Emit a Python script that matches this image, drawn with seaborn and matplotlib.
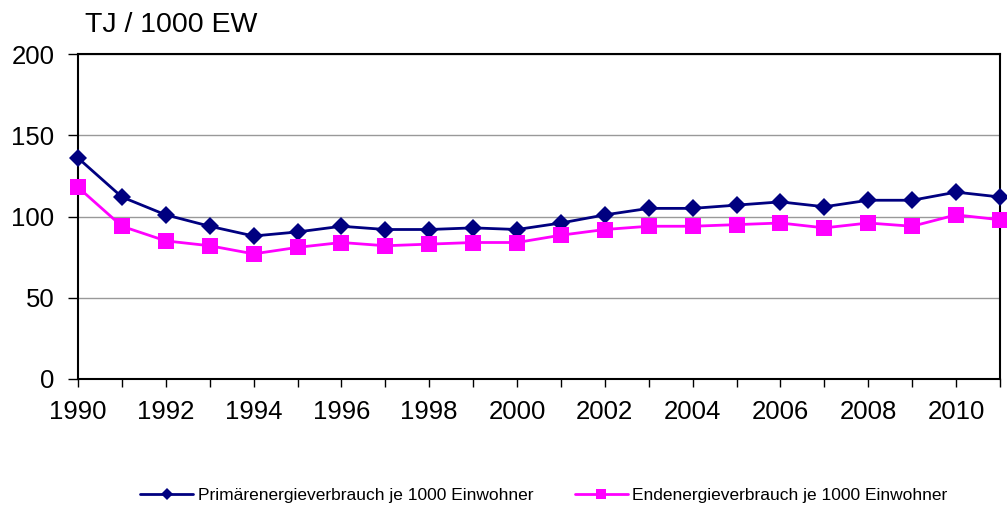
import matplotlib
matplotlib.use("Agg")
import matplotlib.pyplot as plt
import seaborn as sns
import pandas as pd
from matplotlib.ticker import MultipleLocator
from matplotlib.lines import Line2D

years = list(range(1990, 2012))
primaer = [136, 112, 101, 94, 88, 90.5, 94, 92, 92, 93, 92, 96, 101, 105, 105, 107, 109, 106, 110, 110, 115, 112]
ende = [118, 94, 85, 82, 77, 81, 84, 82, 83, 84, 84, 88.5, 92, 94, 94, 95, 96, 93, 96, 94, 101, 98]
label_p = "Primärenergieverbrauch je 1000 Einwohner"
label_e = "Endenergieverbrauch je 1000 Einwohner"
unit_label = "TJ / 1000 EW"

sns.set_theme(style="white")
plt.rcParams['font.family'] = ['Liberation Sans', 'DejaVu Sans']
plt.rcParams['text.color'] = 'black'
plt.rcParams['xtick.color'] = 'black'
plt.rcParams['ytick.color'] = 'black'

df = pd.DataFrame({
    "Jahr": years * 2,
    "Wert": primaer + ende,
    "Serie": [label_p] * len(years) + [label_e] * len(years),
})

fig = plt.figure(figsize=(10.07, 5.09), dpi=100)
ax = fig.add_axes([78/1007, 1-379/509, (1000-78)/1007, (379-54)/509])

sns.lineplot(data=df, x="Jahr", y="Wert", hue="Serie", style="Serie",
             palette={label_p: "#000080", label_e: "#FF00FF"},
             markers={label_p: "D", label_e: "s"},
             dashes=False, linewidth=2, markersize=9.5,
             markeredgewidth=0, ax=ax, legend=False, zorder=3)
for line in ax.get_lines():
    line.set_clip_on(False)
    if line.get_marker() == "s":
        line.set_markersize(11)

ax.set_xlim(1990, 2011)
ax.set_ylim(0, 200)
ax.set_yticks([0, 50, 100, 150, 200])
ax.xaxis.set_major_locator(MultipleLocator(2))
ax.xaxis.set_minor_locator(MultipleLocator(1))
ax.set_xlabel("")
ax.set_ylabel("")
ax.grid(axis="y", color="#999999", linewidth=1)
ax.set_axisbelow(True)
for s in ax.spines.values():
    s.set_color("black")
    s.set_linewidth(1.5)
ax.tick_params(axis="both", which="both", direction="out", color="black",
               bottom=True, left=True, labelsize=18.5, width=1)
ax.tick_params(axis="y", length=7, pad=10)
ax.tick_params(axis="x", which="both", length=6, pad=9)

fig.text(85/1007, 1-25/509, unit_label, fontsize=20.5, va="center", ha="left")

handles = [Line2D([], [], color="#000080", marker="D", markersize=6.5, linewidth=2, markeredgewidth=0),
           Line2D([], [], color="#FF00FF", marker="s", markersize=7.5, linewidth=2, markeredgewidth=0)]
fig.legend(handles, [label_p, label_e], loc="center", ncol=2,
           bbox_to_anchor=(544/1007, 14/509), frameon=False, fontsize=12.5,
           columnspacing=2.4, handlelength=3.05, handletextpad=0.25)

fig.savefig("out.png", dpi=100)
